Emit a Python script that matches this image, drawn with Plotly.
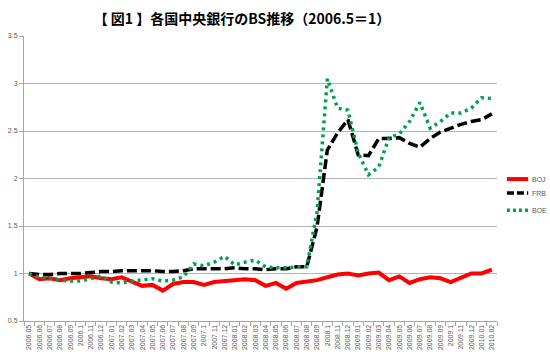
import plotly.graph_objects as go

months = ["2006.05","2006.06","2006.07","2006.08","2006.09","2006.1","2006.11","2006.12",
          "2007.01","2007.02","2007.03","2007.04","2007.05","2007.06","2007.07","2007.08",
          "2007.09","2007.1","2007.11","2007.12","2008.01","2008.02","2008.03","2008.04",
          "2008.05","2008.06","2008.07","2008.08","2008.09","2008.1","2008.11","2008.12",
          "2009.01","2009.02","2009.03","2009.04","2009.05","2009.06","2009.07","2009.08",
          "2009.09","2009.1","2009.11","2009.12","2010.01","2010.02"]

boj = [1.00,0.94,0.95,0.93,0.95,0.96,0.97,0.95,0.94,0.96,0.92,0.87,0.88,0.82,0.89,0.91,
       0.91,0.88,0.91,0.92,0.93,0.94,0.93,0.87,0.90,0.84,0.90,0.91,0.93,0.96,0.99,1.00,
       0.98,1.00,1.01,0.93,0.97,0.90,0.94,0.96,0.95,0.91,0.96,1.00,1.00,1.04]

frb = [1.00,0.99,0.99,1.00,1.00,1.00,1.01,1.02,1.02,1.03,1.03,1.03,1.03,1.02,1.02,1.03,
       1.05,1.05,1.05,1.05,1.06,1.05,1.05,1.04,1.05,1.05,1.07,1.07,1.49,2.30,2.48,2.62,
       2.25,2.24,2.42,2.42,2.43,2.37,2.33,2.42,2.49,2.53,2.57,2.60,2.62,2.68]

boe = [1.00,0.96,0.95,0.93,0.92,0.92,0.945,0.975,0.91,0.90,0.92,0.93,0.945,0.92,0.93,0.965,
       1.10,1.08,1.12,1.18,1.09,1.12,1.14,1.07,1.06,1.06,1.07,1.07,1.65,3.05,2.74,2.72,
       2.27,2.04,2.12,2.43,2.47,2.60,2.80,2.53,2.60,2.69,2.69,2.74,2.85,2.84]

series_names = ["BOJ", "FRB", "BOE"]
series_colors = ["#ff0000", "#000000", "#00a050"]
series_dashes = ["solid", "10px,4px", "3px,4px"]
series_widths = [4, 3.5, 3.5]

y_ticks = [0.5, 1, 1.5, 2, 2.5, 3, 3.5]
y_tick_labels = ["0.5", "1", "1.5", "2", "2.5", "3", "3.5"]

title_text = "【 図1 】各国中央銀行のBS推移（2006.5＝1）"

fig = go.Figure()
for name, vals, col, dash, w in zip(series_names, [boj, frb, boe], series_colors,
                                    series_dashes, series_widths):
    fig.add_trace(go.Scatter(x=months, y=vals, name=name, mode="lines",
                             line=dict(color=col, width=w, dash=dash)))

tick_font = dict(family="Liberation Sans, Arial, sans-serif", size=7, color="#595959")

# custom legend (paper coordinates, to the right of the plot area)
legend_y = [0.498, 0.449, 0.389]
legend_dash = ["solid", "7px,3px", "3px,3px"]
shapes = []
annotations = []
for name, col, dash, w, ly in zip(series_names, series_colors, legend_dash,
                                  series_widths, legend_y):
    shapes.append(dict(type="line", xref="paper", yref="paper",
                       x0=1.021, x1=1.066, y0=ly, y1=ly,
                       line=dict(color=col, width=w, dash=dash)))
    annotations.append(dict(text=name, xref="paper", yref="paper", x=1.069, y=ly,
                            xanchor="left", yanchor="middle", showarrow=False,
                            font=dict(family="Liberation Sans, Arial, sans-serif",
                                      size=7, color="#595959")))

fig.update_layout(
    width=550, height=358,
    margin=dict(l=24, r=53, t=36, b=37),
    paper_bgcolor="white", plot_bgcolor="white",
    title=dict(text=title_text, x=0.44, xanchor="center", y=0.947, yanchor="middle",
               font=dict(family="Noto Sans CJK JP", size=14, color="#000000", weight="bold")),
    showlegend=False,
    shapes=shapes,
    annotations=annotations,
    xaxis=dict(type="category", categoryorder="array", categoryarray=months,
               range=[-0.5, len(months) - 0.5],
               tickangle=-90, tickfont=tick_font, ticks="outside", ticklen=4,
               tickcolor="#a6a6a6", tickson="boundaries",
               showline=True, linecolor="#a6a6a6", linewidth=1,
               showgrid=False, zeroline=False, fixedrange=True, automargin=False),
    yaxis=dict(range=[0.5, 3.5], tickvals=y_ticks, ticktext=y_tick_labels,
               tickfont=tick_font, ticks="outside", ticklen=4, tickcolor="#a6a6a6",
               showline=True, linecolor="#a6a6a6", linewidth=1,
               showgrid=True, gridcolor="#b3b3b3", gridwidth=1,
               zeroline=False, fixedrange=True, automargin=False),
)

# remove the default page margin so the 550x358 figure fills the window exactly
fig.write_html("out.html",
               config={"displayModeBar": False, "staticPlot": True},
               post_script="document.body.style.margin='0';document.body.style.overflow='hidden';")
